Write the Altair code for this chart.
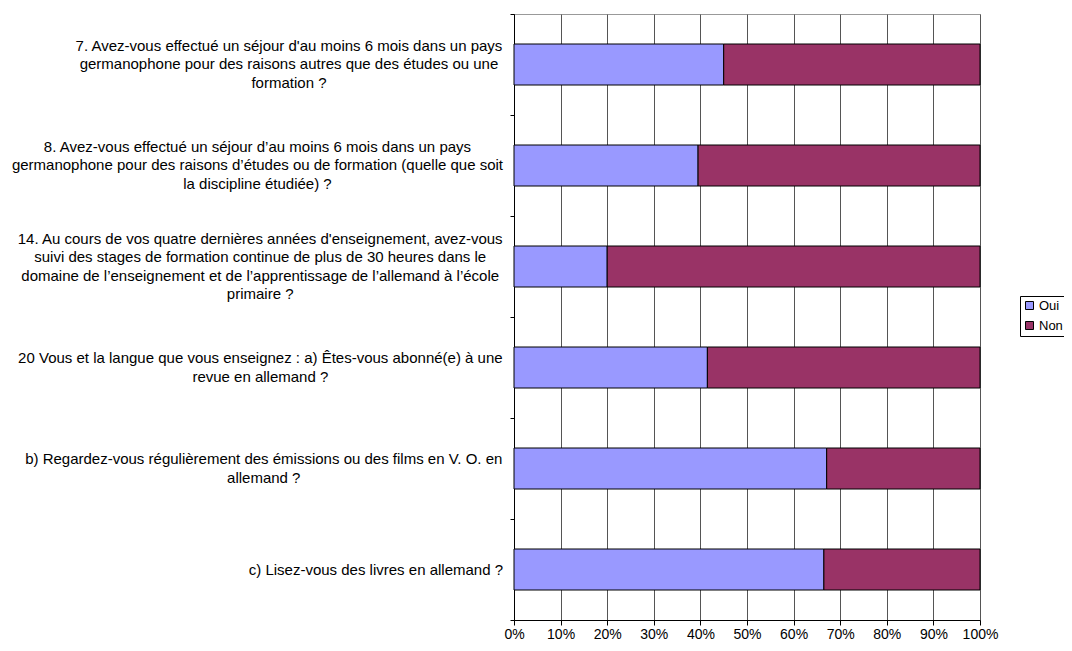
import altair as alt
import pandas as pd

# ---- data ----
keys = ["q7", "q8", "q14", "q20a", "q20b", "q20c"]
label_lines = [
    ["7. Avez-vous effectué un séjour d'au moins 6 mois dans un pays",
     "germanophone pour des raisons autres que des études ou une",
     "formation ?"],
    ["8. Avez-vous effectué un séjour d’au moins 6 mois dans un pays",
     "germanophone pour des raisons d’études ou de formation (quelle que soit",
     "la discipline étudiée) ?"],
    ["14. Au cours de vos quatre dernières années d'enseignement, avez-vous",
     "suivi des stages de formation continue de plus de 30 heures dans le",
     "domaine de l’enseignement et de l’apprentissage de l’allemand à l’école",
     "primaire ?"],
    ["20 Vous et la langue que vous enseignez : a) Êtes-vous abonné(e) à une",
     "revue en allemand ?"],
    ["b) Regardez-vous régulièrement des émissions ou des films en V. O. en",
     "allemand ?"],
    ["c) Lisez-vous des livres en allemand ?"],
]
oui = [45.0, 39.5, 20.0, 41.5, 67.1, 66.5]
non = [55.0, 60.5, 80.0, 58.5, 32.9, 33.5]
responses = ["Oui", "Non"]
colors = ["#9999FF", "#993366"]
ticks = [0, 0.1, 0.2, 0.3, 0.4, 0.5, 0.6, 0.7, 0.8, 0.9, 1.0]

# ---- layout ----
PLOT_W, PLOT_H = 466, 606
STEP = PLOT_H / len(keys)
FONT = "Liberation Sans"
LABEL_SIZE = 15
LINE_H = 18.6
LABEL_GAP = 11

# Arial / Liberation Sans advance widths (1/1000 em) to centre the label blocks
W = {" ": 278, "'": 191, "’": 222, "(": 333, ")": 333, ",": 278, "-": 333, ".": 278,
     ":": 278, "?": 556, "%": 889,
     "A": 667, "B": 667, "C": 722, "D": 722, "E": 667, "Ê": 667, "F": 611, "G": 778,
     "H": 722, "I": 278, "J": 500, "K": 667, "L": 556, "M": 833, "N": 722, "O": 778,
     "P": 667, "Q": 778, "R": 722, "S": 667, "T": 611, "U": 722, "V": 667, "W": 944,
     "a": 556, "b": 556, "c": 500, "d": 556, "e": 556, "f": 278, "g": 556, "h": 556,
     "i": 222, "j": 222, "k": 500, "l": 222, "m": 833, "n": 556, "o": 556, "p": 556,
     "q": 556, "r": 333, "s": 500, "t": 278, "u": 556, "v": 500, "w": 722, "x": 500,
     "y": 500, "z": 500, "é": 556, "è": 556, "ê": 556, "à": 556, "â": 556, "ô": 556}


def text_width(s):
    return sum(W.get(ch, 556) for ch in s) * LABEL_SIZE / 1000.0


rows = []
for k, o, n in zip(keys, oui, non):
    rows.append({"key": k, "resp": "Oui", "frac": o / 100.0, "ord": 0})
    rows.append({"key": k, "resp": "Non", "frac": n / 100.0, "ord": 1})
bars_df = pd.DataFrame(rows)

lab_rows = []
for k, lines in zip(keys, label_lines):
    w = max(text_width(s) for s in lines)
    lab_rows.append({"key": k, "lines": lines,
                     "cxf": (-LABEL_GAP - w / 2.0) / PLOT_W,
                     "dy": STEP / 2.0 - (len(lines) - 1) * LINE_H / 2.0})
labels_df = pd.DataFrame(lab_rows)

y_enc = alt.Y("key:N", sort=keys,
              scale=alt.Scale(paddingInner=0, paddingOuter=0),
              axis=alt.Axis(labels=False, title=None, tickBand="extent",
                            domainColor="black", tickColor="black", tickSize=4,
                            grid=False))

bars = alt.Chart(bars_df).mark_bar(stroke="black", strokeWidth=1, size=41).encode(
    y=y_enc,
    x=alt.X("frac:Q", stack="zero",
            scale=alt.Scale(domain=[0, 1], nice=False, zero=True),
            axis=alt.Axis(values=ticks, format=".0%", title=None, grid=True,
                          gridColor="#555555", gridWidth=1,
                          domainColor="black", tickColor="black", tickSize=5,
                          labelFont=FONT, labelFontSize=14, labelColor="black",
                          labelPadding=2, labelOverlap=False, labelFlush=False)),
    color=alt.Color("resp:N",
                    scale=alt.Scale(domain=responses, range=colors),
                    legend=alt.Legend(title=None, orient="none", legendX=506, legendY=282,
                                      strokeColor="black", fillColor="white", padding=3,
                                      symbolType="square", symbolSize=64,
                                      symbolStrokeColor="black", symbolStrokeWidth=1,
                                      labelFont=FONT, labelFontSize=13, labelColor="black",
                                      labelOffset=3, rowPadding=6)),
    order=alt.Order("ord:Q"),
)

labels = alt.Chart(labels_df).mark_text(
    align="center", baseline="middle", font=FONT, fontSize=LABEL_SIZE,
    lineHeight=LINE_H, color="black", clip=False
).encode(
    y=alt.Y("key:N", sort=keys),
    yOffset=alt.YOffset("dy:Q", scale=None),
    x=alt.X("cxf:Q"),
    text=alt.Text("lines"),
)

chart = alt.layer(bars, labels).properties(
    width=PLOT_W, height=PLOT_H,
    autosize=alt.AutoSizeParams(type="none"),
    padding={"left": 506, "top": 6, "right": 84, "bottom": 22},
    background="white",
).configure_view(stroke="#999999", strokeWidth=1)

chart.save("out.html", embed_options={"renderer": "svg", "actions": False})
